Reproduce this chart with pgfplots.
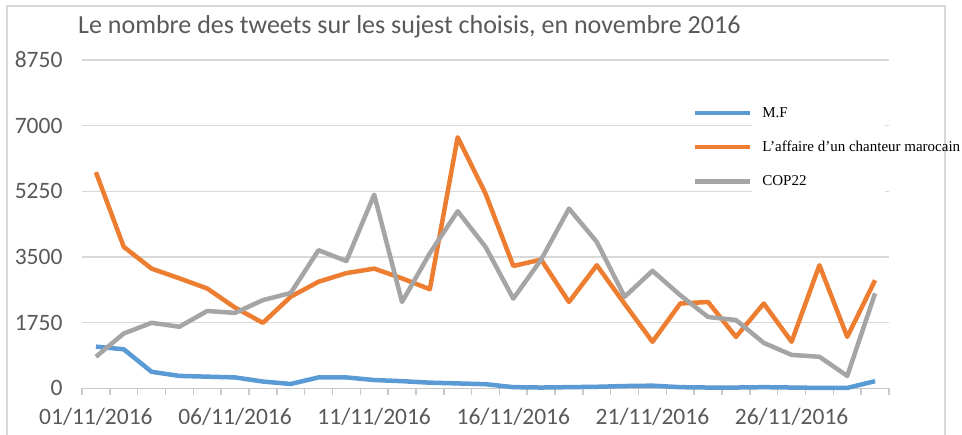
\documentclass[border=0pt]{standalone}
\usepackage{fontspec}
\setmainfont{Carlito}
\newfontfamily\legfont{Liberation Serif}
\usepackage{pgfplots}
\pgfplotsset{compat=1.18}
\definecolor{mfblue}{RGB}{91,155,213}
\definecolor{chorange}{RGB}{237,125,49}
\definecolor{copgray}{RGB}{165,165,165}
\definecolor{gridgray}{RGB}{217,217,217}
\definecolor{axgray}{RGB}{200,200,200}
\definecolor{txtgray}{RGB}{89,89,89}

\begin{document}
\begin{tikzpicture}[x=1pt,y=1pt]
\useasboundingbox (0,0) rectangle (962,435);
% chart frame
\draw[gridgray, line width=1.5pt] (7,-5) -- (7,429) -- (945,429) -- (945,-5);
\node[anchor=base west, inner sep=0, text=txtgray,
      font=\fontsize{26}{30}\selectfont] at (78,401.5)
  {Le nombre des tweets sur les sujest choisis, en novembre 2016};

\begin{axis}[
  at={(82pt,46.7pt)}, anchor=south west,
  scale only axis, width=807pt, height=328.3pt,
  xmin=-0.5, xmax=28.5, ymin=0, ymax=8750,
  axis line style={draw=none}, clip=false,
  ytick={0,1750,...,8750},
  ymajorgrids, grid style={gridgray, line width=1.5pt},
  % labels every 5 days, shifted half a category from the boundary ticks
  xtick={-0.5,0.5,...,28.5},
  xticklabels={01/11/2016,,,,,06/11/2016,,,,,11/11/2016,,,,,16/11/2016,,,,,21/11/2016,,,,,26/11/2016},
  xtick pos=left, ytick pos=left,
  tick align=outside, major tick length=7pt,
  tick style={draw=none},
  ticklabel style={text=txtgray, font=\fontsize{23.5}{27}\selectfont},
  xticklabel style={xshift=13.9pt, yshift=-9pt},
  yticklabel style={xshift=-9pt, /pgf/number format/1000 sep={},
                    /pgf/number format/assume math mode=true},
  legend style={at={(0.753,0.869)}, anchor=north west, draw=none, fill=none,
                font=\legfont\fontsize{15}{18}\selectfont, row sep=18.5pt},
  legend cell align=left,
  legend image code/.code={\draw[#1] (0pt,0pt) -- (55pt,0pt); \path (63pt,0pt);},
]
\fill[white] (rel axis cs:0.830,0.574) rectangle (rel axis cs:0.995,0.893);
% category axis line and boundary tick marks
\draw[axgray, line width=1.5pt] (rel axis cs:0,0) -- (rel axis cs:1,0);
\pgfplotsinvokeforeach{-0.5,0.5,...,28.5}{
  \draw[axgray, line width=1.5pt] (axis cs:#1,0) -- ++(0pt,-7pt);
}
\addplot[mfblue, line width=4.5pt, line join=round] coordinates {
(0,1110)(1,1040)(2,440)(3,330)(4,310)(5,290)(6,180)(7,115)(8,290)(9,290)
(10,220)(11,190)(12,150)(13,130)(14,110)(15,30)(16,20)(17,30)(18,40)(19,60)
(20,70)(21,30)(22,20)(23,20)(24,30)(25,20)(26,10)(27,10)(28,190)};
\addlegendentry{M.F}
\addplot[chorange, line width=4.5pt, line join=round] coordinates {
(0,5760)(1,3770)(2,3190)(3,2930)(4,2660)(5,2150)(6,1745)(7,2440)(8,2840)(9,3070)
(10,3190)(11,2930)(12,2640)(13,6690)(14,5190)(15,3260)(16,3430)(17,2300)(18,3280)(19,2250)
(20,1240)(21,2260)(22,2300)(23,1370)(24,2260)(25,1240)(26,3280)(27,1370)(28,2880)};
\addlegendentry{L’affaire d’un chanteur marocain}
\addplot[copgray, line width=4.5pt, line join=round] coordinates {
(0,840)(1,1460)(2,1745)(3,1640)(4,2060)(5,2010)(6,2350)(7,2540)(8,3680)(9,3390)
(10,5160)(11,2300)(12,3600)(13,4720)(14,3770)(15,2390)(16,3430)(17,4790)(18,3900)(19,2440)
(20,3130)(21,2480)(22,1900)(23,1820)(24,1210)(25,890)(26,840)(27,330)(28,2530)};
\addlegendentry{COP22}
\end{axis}
\end{tikzpicture}
\end{document}
